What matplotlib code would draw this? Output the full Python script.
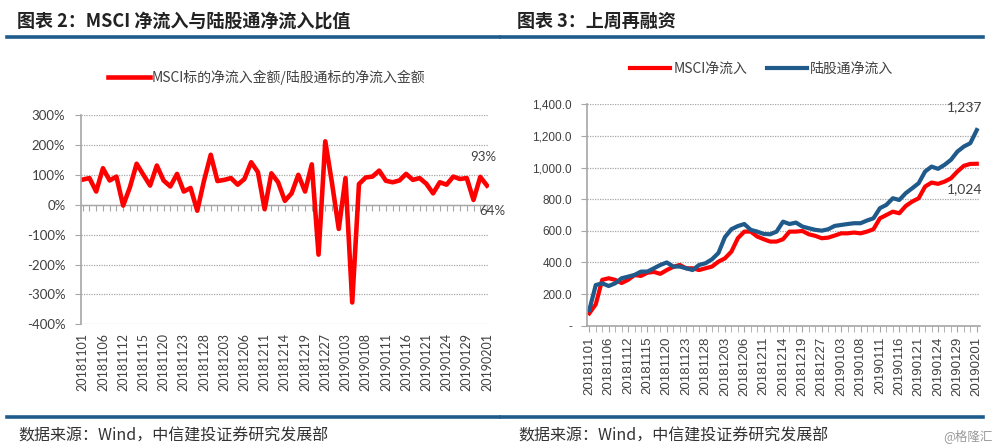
import matplotlib
matplotlib.use("Agg")
import matplotlib.pyplot as plt
from matplotlib.lines import Line2D
from matplotlib.ticker import FuncFormatter, MultipleLocator

plt.rcParams["font.family"] = ["Noto Sans CJK SC", "DejaVu Sans"]

# trading days (northbound), 20181101 .. 20190201
dates = [
    "20181101", "20181102", "20181105", "20181106", "20181107", "20181108", "20181112",
    "20181113", "20181114", "20181115", "20181116", "20181119", "20181120", "20181121",
    "20181122", "20181123", "20181126", "20181127", "20181128", "20181129", "20181130",
    "20181203", "20181204", "20181205", "20181206", "20181207", "20181210", "20181211",
    "20181212", "20181213", "20181214", "20181217", "20181218", "20181219", "20181220",
    "20181221", "20181227", "20181228", "20190102", "20190103", "20190104", "20190107",
    "20190108", "20190109", "20190110", "20190111", "20190114", "20190115", "20190116",
    "20190117", "20190118", "20190121", "20190122", "20190123", "20190124", "20190125",
    "20190128", "20190129", "20190130", "20190131", "20190201",
]

# MSCI标的净流入 / 陆股通标的净流入, in %
ratio = [
    84, 89, 44, 122, 81, 94, -3, 58, 137, 100, 64, 131, 81, 61, 103, 44, 56, -20, 80, 167,
    79, 83, 89, 67, 86, 142, 109, -15, 105, 75, 13, 38, 100, 44, 135, -167, 212, 72, -81, 89,
    -327, 69, 91, 94, 114, 80, 75, 81, 103, 83, 89, 70, 38, 75, 67, 94, 86, 89, 16, 93, 64,
]

msci = [
    78, 135, 290, 300, 290, 270, 290, 320, 315, 335, 340, 328, 352, 372, 384, 363, 363, 352,
    363, 374, 405, 426, 468, 553, 595, 595, 564, 547, 532, 532, 547, 595, 595, 599, 578, 568,
    553, 557, 570, 584, 584, 589, 584, 595, 610, 679, 700, 721, 711, 757, 785, 806, 880, 905,
    897, 911, 932, 975, 1011, 1023, 1024,
]

hgt = [
    99, 257, 268, 251, 268, 300, 310, 321, 342, 342, 363, 384, 400, 374, 374, 363, 352, 384,
    395, 420, 460, 560, 610, 630, 643, 606, 595, 580, 578, 595, 658, 643, 652, 627, 616, 606,
    601, 610, 631, 637, 643, 648, 648, 665, 679, 743, 764, 806, 795, 838, 869, 901, 975, 1006,
    992, 1017, 1049, 1101, 1133, 1154, 1237,
]

RED = "#FF0000"
BLUE = "#1F5A8A"
GRID = "#A6A6A6"
TEXT = "#404040"
RULE = "#1F5C8C"

W, H = 1000, 446
fig = plt.figure(figsize=(10, 4.46), dpi=100)


def fy(py):
    return 1 - py / H


# headers, rules and footers
fig.text(0.017, fy(21), "图表 2：MSCI 净流入与陆股通净流入比值", fontsize=13,
         fontweight="bold", va="center", color="#222222")
fig.text(0.517, fy(21), "图表 3：上周再融资", fontsize=13,
         fontweight="bold", va="center", color="#222222")
for x0, x1 in [(0.007, 0.499), (0.501, 0.983)]:
    fig.add_artist(Line2D([x0, x1], [fy(36.7)] * 2, transform=fig.transFigure, color=RULE, lw=2.6))
    fig.add_artist(Line2D([x0, x1], [fy(417.3)] * 2, transform=fig.transFigure, color=RULE, lw=2.6))
for x0 in [0.018, 0.518]:
    fig.text(x0, fy(436), "数据来源：Wind，中信建投证券研究发展部", fontsize=11.5,
             va="center", color="#333333", style="italic")
fig.text(0.993, fy(436), "@格隆汇", fontsize=9, va="center", ha="right", color="#9A9A9A")

xs = list(range(len(dates)))

# ---- left chart: ratio ----
ax1 = fig.add_axes([80.7 / W, fy(324.3), (489 - 80.7) / W, (324.3 - 115) / H])
ax1.plot(xs, ratio, color=RED, lw=3.3, solid_joinstyle="round",
         label="MSCI标的净流入金额/陆股通标的净流入金额")
ax1.set_xlim(-0.3, 60.3)
ax1.set_ylim(-400, 300)
ax1.yaxis.set_major_locator(MultipleLocator(100))
ax1.yaxis.set_major_formatter(FuncFormatter(lambda v, p: f"{v:.0f}%"))
ax1.grid(axis="y", color=GRID, linestyle=(0, (1, 1)), lw=0.9)
ax1.set_axisbelow(True)
for s in ["top", "right", "bottom"]:
    ax1.spines[s].set_visible(False)
ax1.spines["left"].set_color(GRID)
ax1.spines["left"].set_linewidth(1.2)
ax1.set_xticks(xs[::3])
ax1.set_xticklabels(dates[::3], rotation=90, fontsize=9, color=TEXT, family="Lato")
ax1.tick_params(axis="x", length=0, pad=6.5)
ax1.tick_params(axis="y", length=4, color=GRID, labelsize=9.5, labelcolor=TEXT, pad=7)
for lab in ax1.get_yticklabels():
    lab.set_family("Lato")

# category ticks along the 0% line
sec = ax1.secondary_xaxis(4 / 7)
sec.set_alignment("bottom")
sec.set_xticks(xs)
sec.tick_params(axis="x", length=4, color=GRID, labelbottom=False, labeltop=False)
sec.spines["bottom"].set_color(GRID)
sec.spines["bottom"].set_linewidth(1.0)

ax1.annotate("93%", (59, ratio[59]), xytext=(2, 10), textcoords="offset points",
             ha="center", va="bottom", fontsize=9.5, color=TEXT, family="Lato")
ax1.annotate("64%", (60, ratio[60]), xytext=(4, -14), textcoords="offset points",
             ha="center", va="top", fontsize=9.5, color=TEXT, family="Lato")

ax1.legend(loc="center", bbox_to_anchor=(0.267, fy(77)), bbox_transform=fig.transFigure,
           frameon=False, fontsize=10, handlelength=3.0, handletextpad=0.15,
           labelcolor=TEXT)

# ---- right chart: cumulative inflows ----
ax2 = fig.add_axes([587.3 / W, fy(325.7), (980 - 587.3) / W, (325.7 - 104.3) / H])
ax2.plot(xs, msci, color=RED, lw=3.0, solid_joinstyle="round", label="MSCI净流入")
ax2.plot(xs, hgt, color=BLUE, lw=3.0, solid_joinstyle="round", label="陆股通净流入")
ax2.set_xlim(-0.31, 60.5)
ax2.set_ylim(0, 1400)
ax2.yaxis.set_major_locator(MultipleLocator(200))
ax2.yaxis.set_major_formatter(FuncFormatter(lambda v, p: "-" if v == 0 else f"{v:,.1f}"))
ax2.grid(axis="y", color=GRID, linestyle=(0, (1, 1)), lw=0.9)
ax2.set_axisbelow(True)
for s in ["top", "right"]:
    ax2.spines[s].set_visible(False)
for s in ["left", "bottom"]:
    ax2.spines[s].set_color(GRID)
    ax2.spines[s].set_linewidth(1.2)
ax2.set_xticks(xs[::3])
ax2.set_xticks(xs, minor=True)
ax2.set_xticklabels(dates[::3], rotation=90, fontsize=9.5, color=TEXT, family="Liberation Sans")
ax2.tick_params(axis="x", which="both", length=4, color=GRID, pad=4)
ax2.tick_params(axis="y", length=4, color=GRID, labelsize=8.5, labelcolor=TEXT, pad=7)
for lab in ax2.get_yticklabels():
    lab.set_family("Liberation Sans")

ax2.annotate("1,237", (60, hgt[60]), xytext=(-8.5, 12), textcoords="offset points",
             ha="center", va="bottom", fontsize=10, color=TEXT, family="Lato")
ax2.annotate("1,024", (60, msci[60]), xytext=(-8.5, -14), textcoords="offset points",
             ha="center", va="top", fontsize=10, color=TEXT, family="Lato")

ax2.legend(loc="center", ncol=2, bbox_to_anchor=(0.7615, fy(69)), bbox_transform=fig.transFigure,
           frameon=False, fontsize=10, handlelength=2.9, handletextpad=0.2,
           columnspacing=1.4, labelcolor=TEXT)

fig.savefig("out.png", dpi=100)
